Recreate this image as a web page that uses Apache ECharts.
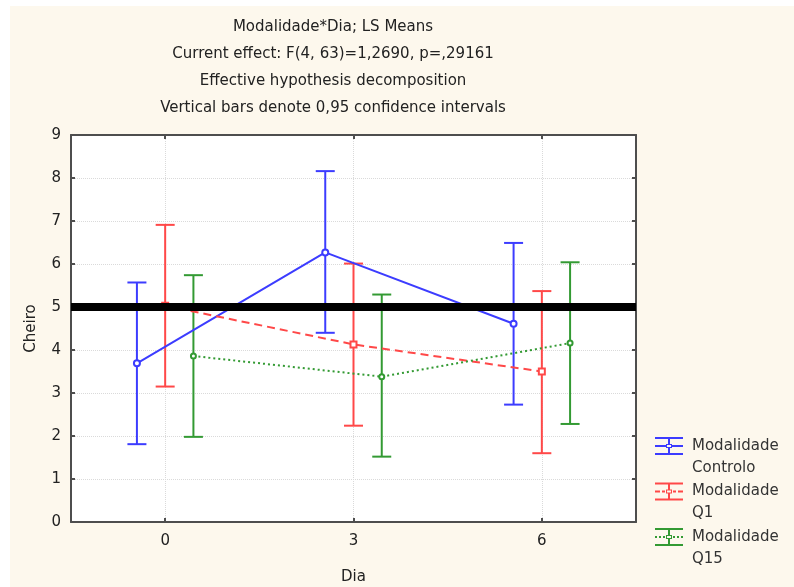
<!DOCTYPE html>
<html><head><meta charset="utf-8">
<script src="https://cdn.jsdelivr.net/npm/echarts@6/dist/echarts.min.js"></script>
<style>html,body{margin:0;padding:0;background:#fff}#c{width:794px;height:587px}</style>
</head><body><div id="c"></div>
<script>
const titleLines = [
  'Modalidade*Dia; LS Means',
  'Current effect: F(4, 63)=1,2690, p=,29161',
  'Effective hypothesis decomposition',
  'Vertical bars denote 0,95 confidence intervals'
];
const dias = ['0', '3', '6'];
const groupNames = ['Modalidade Controlo', 'Modalidade Q1', 'Modalidade Q15'];
const controloMean = [3.69, 6.27, 4.61];
const controloLow  = [1.81, 4.40, 2.73];
const controloHigh = [5.57, 8.16, 6.49];
const q1Mean = [5.03, 4.13, 3.50];
const q1Low  = [3.15, 2.24, 1.60];
const q1High = [6.91, 6.01, 5.37];
const q15Mean = [3.86, 3.38, 4.16];
const q15Low  = [1.98, 1.52, 2.28];
const q15High = [5.74, 5.29, 6.04];
const referenceLevel = 5;
const yAxisName = 'Cheiro';
const xAxisName = 'Dia';

const FONT = 'DejaVu Sans';
const colors = ['#3c3cff', '#ff4848', '#339a33'];
const offsets = [-0.45, 0, 0.45];
const lineTypes = ['solid', [8, 5], [2, 3]];
const symbols = ['emptyCircle', 'emptyRect', 'emptyCircle'];
const symbolSizes = [6, 6, 5];
const groups = [
  {mean: controloMean, low: controloLow, high: controloHigh},
  {mean: q1Mean, low: q1Low, high: q1High},
  {mean: q15Mean, low: q15Low, high: q15High}
];
const icons = [
  'path://M0 0H28V2H0Z M0 16H28V18H0Z M13 2H15V7H13Z M13 11H15V16H13Z M0 8H11V10H0Z M17 8H28V10H17Z M11 7H17V11H11Z M12 8V10H16V8Z',
  'path://M0 0H28V2H0Z M0 16H28V18H0Z M13 2H15V7H13Z M13 11H15V16H13Z M0 8H5V10H0Z M7 8H10V10H7Z M18 8H21V10H18Z M23 8H28V10H23Z M11 7H17V11H11Z M12 8V10H16V8Z',
  'path://M0 0H28V2H0Z M0 16H28V18H0Z M13 2H15V7H13Z M13 11H15V16H13Z M0 8H2V10H0Z M4 8H6V10H4Z M8 8H10V10H8Z M18 8H20V10H18Z M22 8H24V10H22Z M26 8H28V10H26Z M11 7H17V11H11Z M12 8V10H16V8Z'
];

const axisColor = '#4e4e4e';
const gridColor = '#dadada';
const series = [];
groups.forEach((g, gi) => {
  const pts = dias.map((d, i) => [parseFloat(d) + offsets[gi], g.mean[i]]);
  series.push({
    type: 'line', name: groupNames[gi], xAxisIndex: 2, yAxisIndex: 0,
    data: pts, symbol: symbols[gi], symbolSize: symbolSizes[gi],
    itemStyle: {color: colors[gi]},
    lineStyle: {color: colors[gi], width: 2, type: lineTypes[gi]},
    z: 4, animation: false
  });
});
groups.forEach((g, gi) => {
  const bars = dias.map((d, i) => [parseFloat(d) + offsets[gi], g.low[i], g.high[i]]);
  series.push({
    type: 'custom', name: groupNames[gi], xAxisIndex: 2, yAxisIndex: 0,
    data: bars, z: 3, animation: false,
    encode: {x: 0, y: [1, 2]},
    renderItem: function (params, api) {
      const x = api.value(0);
      const top = api.coord([x, api.value(2)]);
      const bot = api.coord([x, api.value(1)]);
      const hw = 9.5;
      const st = {stroke: colors[gi], lineWidth: 2, fill: null};
      return {type: 'group', children: [
        {type: 'line', shape: {x1: top[0], y1: top[1], x2: bot[0], y2: bot[1]}, style: st},
        {type: 'line', shape: {x1: top[0] - hw, y1: top[1], x2: top[0] + hw, y2: top[1]}, style: st},
        {type: 'line', shape: {x1: bot[0] - hw, y1: bot[1], x2: bot[0] + hw, y2: bot[1]}, style: st}
      ]};
    }
  });
});
series.push({
  type: 'line', name: 'ref', xAxisIndex: 2, yAxisIndex: 0, data: [], z: 10,
  markLine: {
    silent: true, symbol: 'none', label: {show: false}, animation: false,
    lineStyle: {color: '#000', width: 8, type: 'solid'},
    data: [{yAxis: referenceLevel}]
  }
});

const chart = echarts.init(document.getElementById('c'), null, {renderer: 'canvas'});
chart.setOption({
  backgroundColor: '#ffffff',
  animation: false,
  graphic: [{type: 'rect', shape: {x: 10, y: 6, width: 784, height: 581}, style: {fill: '#fdf8ed'}, z: -100, silent: true}],
  title: {
    text: titleLines.join('\n'), left: 333, top: 13.5, padding: 0, textAlign: 'center',
    textStyle: {fontFamily: FONT, fontSize: 15, fontWeight: 'normal', lineHeight: 27, color: '#222'}
  },
  legend: {
    orient: 'vertical', left: 655, top: 413, padding: 0, itemGap: -20.5,
    itemWidth: 28, itemHeight: 18,
    data: groupNames.map((n, i) => ({name: n, icon: icons[i]})),
    formatter: n => '\n' + n.replace(' ', '\n'),
    textStyle: {fontFamily: FONT, fontSize: 15, color: '#333', lineHeight: 22, padding: [0, 0, 0, 4]}
  },
  grid: {left: 71, right: 158, top: 135, bottom: 65, show: true, backgroundColor: '#ffffff', borderWidth: 0, containLabel: false, outerBoundsMode: 'none'},
  xAxis: [
    {
      type: 'category', data: dias, position: 'bottom', boundaryGap: true,
      axisLine: {show: true, onZero: false, lineStyle: {color: axisColor, width: 2}},
      axisTick: {show: true, inside: true, alignWithLabel: true, length: 4, lineStyle: {color: axisColor, width: 2}},
      axisLabel: {margin: 12, fontSize: 15, fontFamily: FONT, color: '#222'},
      splitLine: {show: true, alignWithLabel: true, lineStyle: {type: 'dotted', color: gridColor, width: 1}},
      name: xAxisName, nameLocation: 'middle', nameGap: 48,
      nameTextStyle: {fontSize: 15, fontFamily: FONT, color: '#222'}
    },
    {
      type: 'category', data: dias, position: 'top', boundaryGap: true,
      axisLine: {show: true, onZero: false, lineStyle: {color: axisColor, width: 2}},
      axisTick: {show: true, inside: true, alignWithLabel: true, length: 4, lineStyle: {color: axisColor, width: 2}},
      axisLabel: {show: false}, splitLine: {show: false}
    },
    {type: 'value', min: -1.5, max: 7.5, show: false, axisLine: {onZero: false}, splitLine: {show: false}}
  ],
  yAxis: [
    {
      type: 'value', min: 0, max: 9, interval: 1, position: 'left',
      axisLine: {show: true, onZero: false, lineStyle: {color: axisColor, width: 2}},
      axisTick: {show: true, inside: true, length: 4, lineStyle: {color: axisColor, width: 2}},
      axisLabel: {margin: 10, fontSize: 15, fontFamily: FONT, color: '#222'},
      splitLine: {show: true, lineStyle: {type: 'dotted', color: gridColor, width: 1}},
      name: yAxisName, nameLocation: 'middle', nameGap: 32, nameRotate: 90,
      nameTextStyle: {fontSize: 15, fontFamily: FONT, color: '#222'}
    },
    {
      type: 'value', min: 0, max: 9, interval: 1, position: 'right',
      axisLine: {show: true, onZero: false, lineStyle: {color: axisColor, width: 2}},
      axisTick: {show: true, inside: true, length: 4, lineStyle: {color: axisColor, width: 2}},
      axisLabel: {show: false}, splitLine: {show: false}
    }
  ],
  series: series
});
</script></body></html>
